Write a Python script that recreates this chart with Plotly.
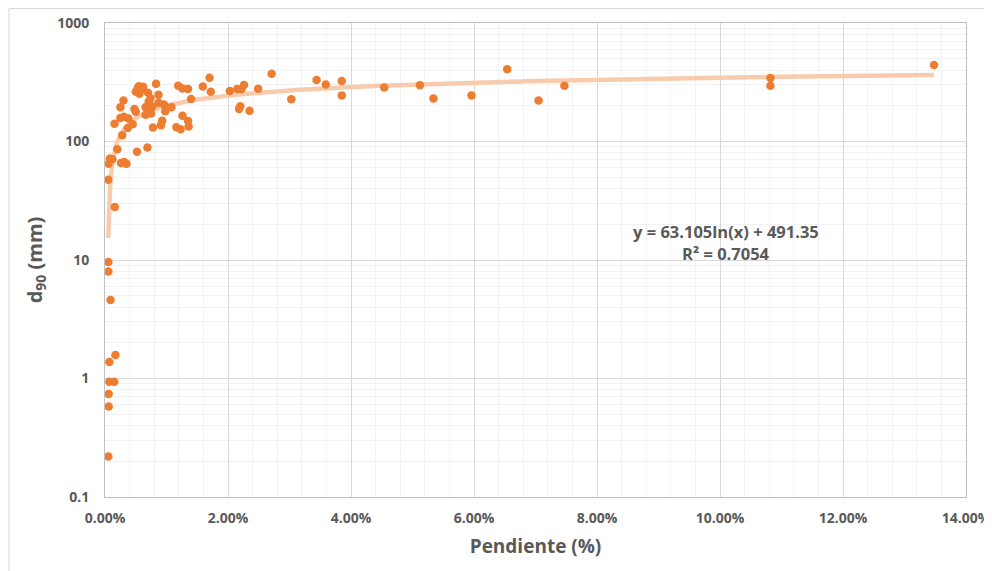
import plotly.graph_objects as go
import numpy as np

# Pendiente (%) as fractions, d90 (mm)
pendiente = [
    0.00055, 0.0006, 0.0006, 0.0007, 0.0015, 0.0007, 0.0017, 0.0009, 0.00055, 0.00055,
    0.0016, 0.00053, 0.0008, 0.0006, 0.0012, 0.0026, 0.0031, 0.0035, 0.0020, 0.0052,
    0.0069, 0.0028, 0.00155, 0.0025, 0.0031, 0.0038, 0.0037, 0.0030, 0.0025, 0.0048,
    0.0050, 0.0083, 0.0055, 0.0053, 0.0058, 0.0050, 0.0056, 0.0062, 0.0070, 0.0087,
    0.0074, 0.0071, 0.0087, 0.0096, 0.0108, 0.0098, 0.0066, 0.0071, 0.0077, 0.0066,
    0.0075, 0.0074, 0.0093, 0.0091, 0.0078, 0.0126, 0.0135, 0.0136, 0.0116, 0.0123,
    0.0119, 0.0126, 0.0135, 0.0159, 0.0170, 0.0172, 0.0140, 0.0203, 0.0215, 0.0222,
    0.0226, 0.0249, 0.0271, 0.0303, 0.0220, 0.0218, 0.0235, 0.0344, 0.0359, 0.0385,
    0.0385, 0.0454, 0.0512, 0.0534, 0.0596, 0.0654, 0.0705, 0.0747, 0.1082, 0.1082,
    0.1348, 0.0060, 0.0045,
]
d90 = [
    0.22, 0.58, 0.74, 0.94, 0.94, 1.38, 1.58, 4.6, 8.0, 9.6,
    28, 47.5, 72, 65, 71, 66, 67, 65, 86, 82,
    89, 113, 141, 158, 162, 156, 130, 222, 195, 188,
    178, 307, 293, 280, 285, 263, 253, 290, 258, 248,
    232, 218, 212, 205, 195, 180, 195, 185, 197, 168,
    172, 190, 150, 137, 131, 165, 149, 134, 132, 127,
    295, 280, 277, 291, 345, 263, 228, 267, 278, 277,
    300, 279, 373, 227, 198, 188, 182, 330, 303, 324,
    245, 286, 299, 231, 245, 408, 222, 295, 343, 295,
    442, 275, 140,
]

# Trend line coefficients shown on the chart: y = a ln(x) + b
trend_a = 63.105
trend_b = 491.35
trend_eq = "y = 63.105ln(x) + 491.35"
trend_r2 = "R² = 0.7054"

y_tickvals = [0.1, 1, 10, 100, 1000]
y_ticktext = ["0.1", "1", "10", "100", "1000"]
y_minor = [m * 10.0 ** k for k in range(-1, 3) for m in range(2, 10)]

xt = np.linspace(min(pendiente), max(pendiente), 400)
yt = trend_a * np.log(xt) + trend_b

GRAY = "#595959"
FONT = "Open Sans"

fig = go.Figure()
fig.add_trace(go.Scatter(
    x=xt, y=yt, mode="lines",
    line=dict(color="#F8CBAD", width=4.5),
    hoverinfo="skip", showlegend=False,
))
fig.add_trace(go.Scatter(
    x=pendiente, y=d90, mode="markers",
    marker=dict(color="#ED7D31", size=8.5, line=dict(width=0)),
    showlegend=False,
))

fig.update_layout(
    width=992, height=571,
    margin=dict(l=97, r=34, t=15, b=82),
    paper_bgcolor="white", plot_bgcolor="white",
    font=dict(family=FONT, color=GRAY),
    xaxis=dict(
        range=[0, 0.14], dtick=0.02, tick0=0, tickformat=".2%",
        automargin=False,
        showgrid=True, gridcolor="#D9D9D9", gridwidth=1,
        minor=dict(dtick=0.004, showgrid=True, gridcolor="#F2F2F2", gridwidth=1),
        showline=True, linecolor="#BFBFBF", linewidth=1, mirror=True,
        zeroline=False, ticks="",
        tickfont=dict(family=FONT, size=14, color=GRAY, weight="bold"),
        ticklabelstandoff=8,
        title=dict(text="Pendiente (%)", standoff=13,
                   font=dict(family=FONT, size=19, color=GRAY, weight="bold")),
    ),
    yaxis=dict(
        type="log", range=[-1, 3],
        tickvals=y_tickvals, ticktext=y_ticktext,
        automargin=False,
        showgrid=True, gridcolor="#D9D9D9", gridwidth=1,
        minor=dict(tickvals=y_minor, showgrid=True, gridcolor="#F2F2F2", gridwidth=1),
        showline=True, linecolor="#BFBFBF", linewidth=1, mirror=True,
        zeroline=False, ticks="",
        tickfont=dict(family=FONT, size=14, color=GRAY, weight="bold"),
        ticklabelstandoff=12,
        title=dict(text="d<sub>90</sub> (mm)", standoff=9,
                   font=dict(family=FONT, size=20, color=GRAY, weight="bold")),
    ),
    annotations=[
        dict(x=0.101, y=1.237, xref="x", yref="y", text=trend_eq,
             showarrow=False, font=dict(family=FONT, size=16.5, color=GRAY, weight="bold")),
        dict(x=0.101, y=1.0515, xref="x", yref="y", text=trend_r2,
             showarrow=False, font=dict(family=FONT, size=16.5, color=GRAY, weight="bold")),
    ],
    shapes=[dict(
        type="rect", xref="paper", yref="paper",
        x0=-0.1115, x1=1.0221, y0=-0.2, y1=1.0306,
        line=dict(color="#D9D9D9", width=1), fillcolor="rgba(0,0,0,0)",
        layer="below",
    )],
)

fig.write_html("out.html")
